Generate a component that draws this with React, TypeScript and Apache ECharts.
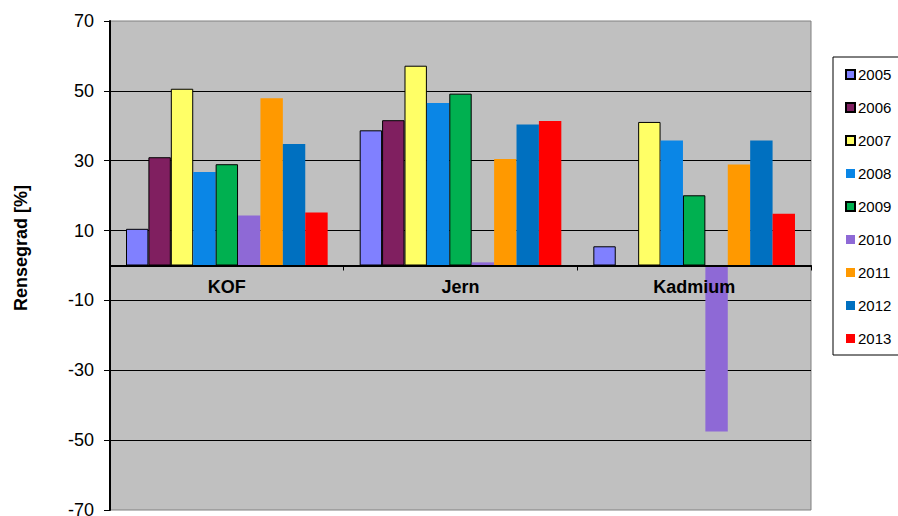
import React, { useEffect, useRef } from "react";
import * as echarts from "echarts";

// Rensegrad (removal efficiency) per parameter and year
const categories = ["KOF", "Jern", "Kadmium"];
const years = ["2005", "2006", "2007", "2008", "2009", "2010", "2011", "2012", "2013"];

const v2005 = [10.5, 38.7, 5.5];
const v2006 = [31.0, 41.6, null];
const v2007 = [50.6, 57.2, 41.1];
const v2008 = [26.8, 46.5, 35.8];
const v2009 = [29.0, 49.2, 20.1];
const v2010 = [14.3, 0.9, -47.5];
const v2011 = [47.9, 30.5, 28.9];
const v2012 = [34.8, 40.4, 35.8];
const v2013 = [15.2, 41.4, 14.8];

const seriesValues = [v2005, v2006, v2007, v2008, v2009, v2010, v2011, v2012, v2013];
const colors = ["#8080FF", "#801F60", "#FFFF66", "#0A86E6", "#00B050", "#8E69D6", "#FF9900", "#0070C0", "#FF0000"];
const outlined = [true, true, true, false, true, false, false, false, false];

// Tick labels shown on the value axis
const yMin = -70;
const yMax = 70;
const yStep = 20;

const FONT = "'Liberation Sans', Arial, sans-serif";

const GRID_TOP = 21;
const GRID_BOTTOM = 6;
const CHART_H = 516;

export default function App() {
  const ref = useRef<HTMLDivElement>(null);

  useEffect(() => {
    if (!ref.current) return;
    const chart = echarts.init(ref.current, undefined, { renderer: "svg" });

    const series = years.map((y, i) => ({
      name: y,
      type: "bar",
      xAxisIndex: 0,
      yAxisIndex: 0,
      data: seriesValues[i],
      barGap: "0%",
      barCategoryGap: "13.7%",
      itemStyle: {
        color: colors[i],
        borderColor: outlined[i] ? "#000" : colors[i],
        borderWidth: outlined[i] ? 1 : 0,
      },
    }));

    // Category axis sits at value 0, which lies at this fraction of the plot height from the bottom
    const plotH = CHART_H - GRID_TOP - GRID_BOTTOM;
    const zeroOffset = -plotH * ((0 - yMin) / (yMax - yMin));

    chart.setOption({
      animation: false,
      backgroundColor: "#fff",
      textStyle: { fontFamily: FONT },
      grid: {
        left: 110,
        top: GRID_TOP,
        right: 87,
        bottom: GRID_BOTTOM,
        outerBoundsMode: "none",
        containLabel: false,
        show: true,
        backgroundColor: "#C0C0C0",
        borderColor: "#808080",
        borderWidth: 1,
      },
      legend: {
        orient: "vertical",
        left: 833,
        top: 57,
        data: years,
        icon: "rect",
        itemWidth: 9,
        itemHeight: 9,
        itemGap: 18,
        padding: [10, 24, 9, 12],
        backgroundColor: "#fff",
        borderColor: "#000",
        borderWidth: 1,
        textStyle: { fontFamily: FONT, fontSize: 15, color: "#000", padding: [0, 0, 0, -2] },
      },
      xAxis: {
        type: "category",
        data: categories,
        position: "bottom",
        offset: zeroOffset,
        z: 5,
        axisLine: { onZero: false, lineStyle: { color: "#000", width: 2 } },
        axisTick: { show: true, length: 5, lineStyle: { color: "#000", width: 1 } },
        axisLabel: { fontFamily: FONT, fontSize: 18, fontWeight: "bold", color: "#000", margin: 12 },
        splitLine: { show: false },
      },
      yAxis: [
        {
          // scale used by the bars
          type: "value",
          position: "left",
          min: yMin,
          max: yMax,
          axisLine: { show: false },
          axisTick: { show: false },
          axisLabel: { show: false },
          splitLine: { show: false },
        },
        {
          // visible scale: ticks every 20 starting at -70
          type: "value",
          position: "left",
          min: 0,
          max: yMax - yMin,
          interval: yStep,
          axisLine: { show: true, onZero: false, lineStyle: { color: "#000", width: 2 } },
          axisTick: { show: true, length: 6, lineStyle: { color: "#000", width: 1 } },
          axisLabel: {
            fontFamily: FONT,
            fontSize: 18,
            color: "#000",
            margin: 16,
            formatter: (v: number) => String(v + yMin),
          },
          splitLine: {
            show: true,
            showMinLine: false,
            showMaxLine: false,
            lineStyle: { color: "#000", width: 1 },
          },
        },
      ],
      graphic: [
        {
          type: "text",
          x: 21,
          y: 248,
          rotation: Math.PI / 2,
          style: {
            text: "Rensegrad [%]",
            fontFamily: FONT,
            fontSize: 18,
            fontWeight: "bold",
            fill: "#000",
            align: "center",
            verticalAlign: "middle",
          },
        },
      ],
      series,
    });

    return () => chart.dispose();
  }, []);

  return (
    <div
      ref={ref}
      style={{ position: "absolute", left: 0, top: 0, width: 898, height: 516 }}
    />
  );
}
